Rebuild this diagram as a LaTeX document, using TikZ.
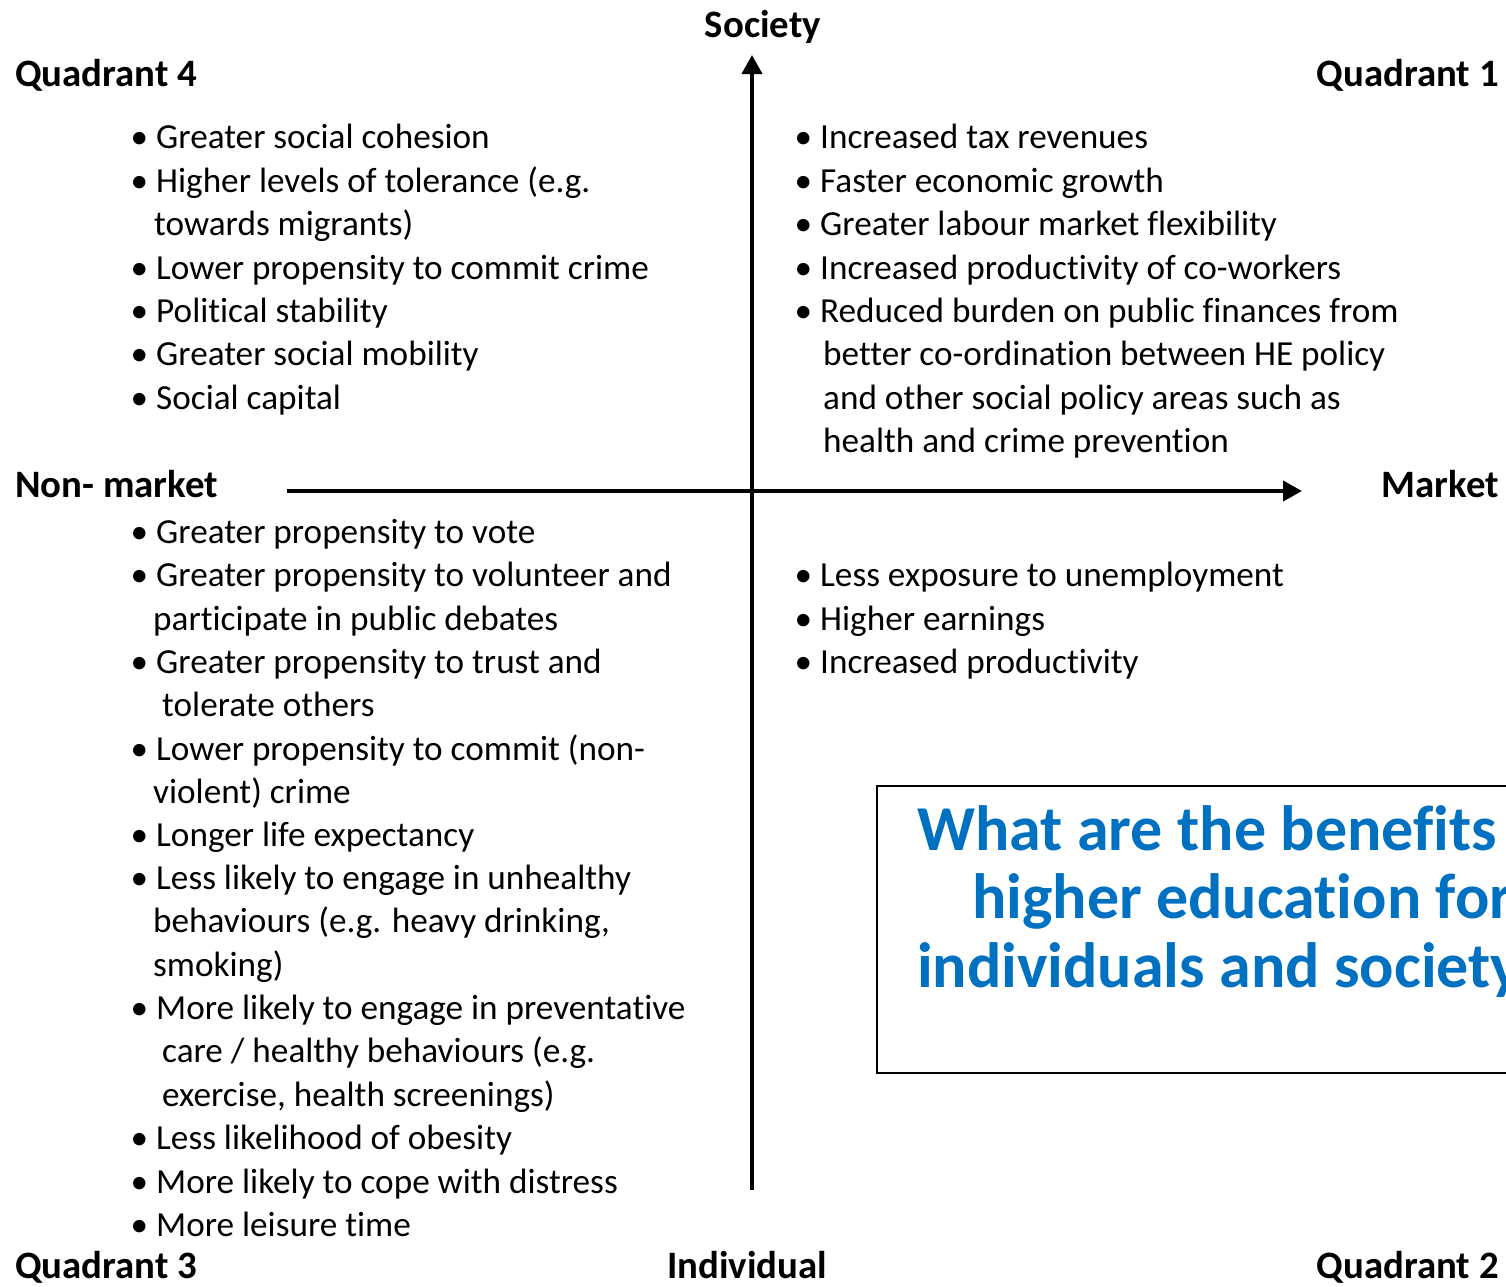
\documentclass[tikz,border=0pt]{standalone}
\usepackage{fontspec}
\setmainfont{Carlito}[Ligatures=CommonOff]
\usetikzlibrary{arrows.meta}
\definecolor{qblue}{RGB}{0,112,192}
\newcommand{\bul}{\llap{\textbullet\hspace{8pt}}}

\tikzset{
  axis/.style={line width=4pt, -{Triangle[length=19pt,width=20pt]}},
  heading/.style={font=\bfseries\fontsize{38.8}{46}\selectfont, inner sep=0pt},
  item/.style={font=\fontsize{35.2}{43}\selectfont, inner sep=0pt, anchor=base west},
  question/.style={font=\bfseries\fontsize{64}{70}\selectfont, text=qblue, inner sep=0pt, anchor=base west},
}

\begin{document}
\begin{tikzpicture}[x=1pt, y=-1pt]
  \useasboundingbox (0,0) rectangle (1506,1286);
  \clip (0,0) rectangle (1506,1286);

  % Axes
  \coordinate (individual-end) at (752,1190);
  \coordinate (society-end) at (752,55);
  \coordinate (nonmarket-end) at (287,491);
  \coordinate (market-end) at (1302,491);
  \draw[axis] (individual-end) -- (society-end);
  \draw[axis] (nonmarket-end) -- (market-end);

  % Axis and quadrant labels
  \node[heading, anchor=base] (society) at (763,37) {Society};
  \node[heading, anchor=base] (individual) at (747,1278) {Individual};
  \node[heading, anchor=base west] (nonmarket) at (15,497) {Non- market};
  \node[heading, anchor=base east] (market) at (1499,497) {Market};
  \node[heading, anchor=base west] (quad4) at (15,86) {Quadrant 4};
  \node[heading, anchor=base east] (quad1) at (1499,86) {Quadrant 1};
  \node[heading, anchor=base west] (quad3) at (15,1278) {Quadrant 3};
  \node[heading, anchor=base east] (quad2) at (1499,1278) {Quadrant 2};

  % Quadrant 4: society, non-market
  \foreach \tx/\ty/\txt [count=\i] in {
      156/148/{\bul Greater social cohesion},
      156/192/{\bul Higher levels of tolerance (e.g.},
      154/235/{towards migrants)},
      156/279/{\bul Lower propensity to commit crime},
      156/322/{\bul Political stability},
      156/365/{\bul Greater social mobility},
      156/409/{\bul Social capital}}
    \node[item] (qfour\i) at (\tx,\ty) {\txt};

  % Quadrant 1: society, market
  \foreach \tx/\ty/\txt [count=\i] in {
      820/148/{\bul Increased tax revenues},
      820/192/{\bul Faster economic growth},
      820/235/{\bul Greater labour market flexibility},
      820/279/{\bul Increased productivity of co-workers},
      820/322/{\bul Reduced burden on public finances from},
      823/365/{better co-ordination between HE policy},
      823/409/{and other social policy areas such as},
      823/452/{health and crime prevention}}
    \node[item] (qone\i) at (\tx,\ty) {\txt};

  % Quadrant 3: individual, non-market
  \foreach \tx/\ty/\txt [count=\i] in {
      156/543/{\bul Greater propensity to vote},
      156/586/{\bul Greater propensity to volunteer and},
      153/630/{participate in public debates},
      156/673/{\bul Greater propensity to trust and},
      162/716/{tolerate others},
      156/760/{\bul Lower propensity to commit (non-},
      153/803/{violent) crime},
      156/846/{\bul Longer life expectancy},
      156/889/{\bul Less likely to engage in unhealthy},
      153/932/{behaviours (e.g. heavy drinking,},
      153/976/{smoking)},
      156/1019/{\bul More likely to engage in preventative},
      162/1062/{care / healthy behaviours (e.g.},
      162/1106/{exercise, health screenings)},
      156/1149/{\bul Less likelihood of obesity},
      156/1193/{\bul More likely to cope with distress},
      156/1236/{\bul More leisure time}}
    \node[item] (qthree\i) at (\tx,\ty) {\txt};

  % Quadrant 2: individual, market
  \foreach \tx/\ty/\txt [count=\i] in {
      820/586/{\bul Less exposure to unemployment},
      820/630/{\bul Higher earnings},
      820/673/{\bul Increased productivity}}
    \node[item] (qtwo\i) at (\tx,\ty) {\txt};

  % Question box (runs off the right edge)
  \draw[line width=1.5pt] (877,786) rectangle (1540,1073);
  \node[question] (qline1) at (917,850) {What are the benefits};
  \node[question] (qline2) at (972,918) {higher education for};
  \node[question] (qline3) at (917,987) {individuals and society?};
\end{tikzpicture}
\end{document}
